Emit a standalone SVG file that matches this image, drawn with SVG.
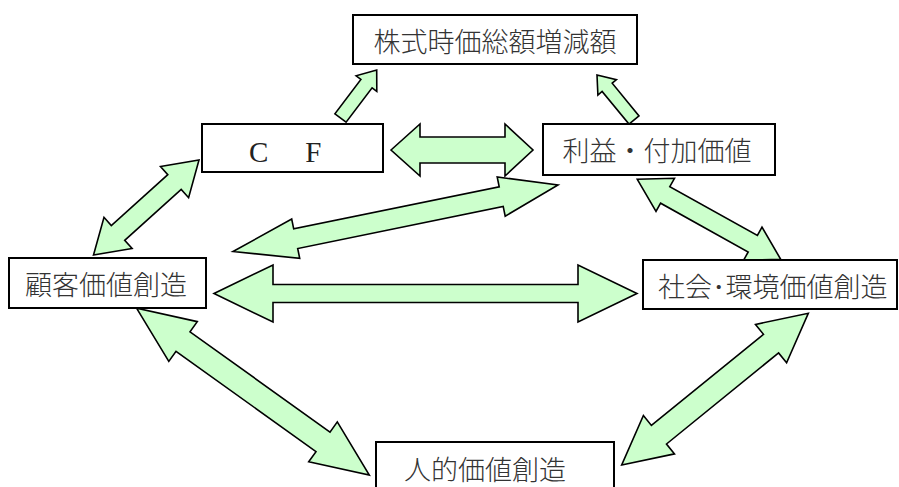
<svg xmlns="http://www.w3.org/2000/svg" width="899" height="487" viewBox="0 0 899 487">
<style>
.box{fill:#fff;stroke:#000;stroke-width:2}
.arr{fill:#ccffcc;stroke:#000;stroke-width:1.6;stroke-linejoin:miter}
.t{font-family:"Noto Sans CJK JP","Noto Sans",sans-serif;font-size:27px;font-weight:300;fill:#333}
.s{font-family:"Liberation Serif","Noto Sans CJK JP",serif;font-size:29px;fill:#222}
</style>
<rect width="899" height="487" fill="#fff"/>
<g id="connectors">
<polygon class="arr" points="376.7,70 376.8,91.4 372.1,87.8 346.1,122.2 334.9,113.8 360.9,79.4 356.1,75.8"/>
<polygon class="arr" points="597,75 616.4,79.7 612.2,83.2 639,115.9 629,124.1 602.1,91.5 597.9,95"/>
<polygon class="arr" points="391,150 420,124 420,137 505,137 505,124 533,150 505,176 505,163 420,163 420,176"/>
<polygon class="arr" points="214,293.5 273,265 273,284.5 578,284.5 578,265 637,293.5 578,322 578,302.5 273,302.5 273,322"/>
<polygon class="arr" points="93.5,255 132.1,248.5 124.7,240.3 181.2,189.5 188.6,197.7 199,160 160.5,166.5 167.8,174.7 111.3,225.5 104,217.3"/>
<polygon class="arr" points="233,251.5 299.7,258.3 297.7,248.5 503.2,206.4 505.2,216.2 558,185 497.2,177 499.2,186.8 293.7,228.9 291.7,219.1"/>
<polygon class="arr" points="637.3,179.3 656,211.5 660.6,203.2 748.2,252 743.5,260.3 780.7,259.3 762,227.1 757.4,235.4 669.8,186.6 674.5,178.3"/>
<polygon class="arr" points="136.7,308.3 168.8,361.4 176,351.3 316,451.6 308.7,461.7 369.3,475 337.3,421.9 330,432.1 190,331.8 197.3,321.6"/>
<polygon class="arr" points="621.7,465 674.5,453.9 666.5,444 778.6,352.9 786.6,362.8 808.3,313.3 755.5,324.4 763.5,334.3 651.4,425.4 643.4,415.5"/>
</g>
<g id="node-kabushiki">
<rect class="box" x="353" y="15" width="284" height="49"/>
<text class="t" x="495" y="52" text-anchor="middle">株式時価総額増減額</text>
</g>
<g id="node-cf">
<rect class="box" x="202" y="124" width="181" height="48"/>
<text class="s" x="249" y="162">C<tspan dx="8">　F</tspan></text>
</g>
<g id="node-rieki">
<rect class="box" x="543" y="124" width="232" height="51"/>
<text class="t" x="657" y="161" text-anchor="middle">利益・付加価値</text>
</g>
<g id="node-kokyaku">
<rect class="box" x="9" y="258" width="197" height="50"/>
<text class="t" x="106" y="294.5" text-anchor="middle">顧客価値創造</text>
</g>
<g id="node-shakai">
<rect class="box" x="643" y="260" width="254" height="49"/>
<text class="t" x="658" y="296.5">社会･環境価値創造</text>
</g>
<g id="node-jinteki">
<rect class="box" x="376" y="442" width="238" height="60"/>
<text class="t" x="485" y="479.5" text-anchor="middle">人的価値創造</text>
</g>
</svg>
